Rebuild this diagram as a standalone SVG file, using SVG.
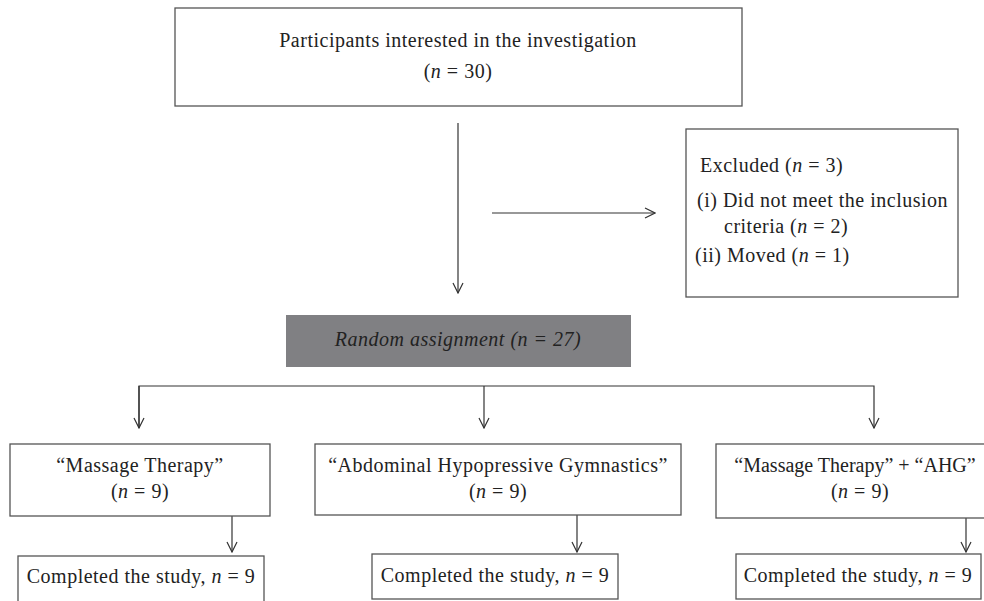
<svg xmlns="http://www.w3.org/2000/svg" width="984" height="601" viewBox="0 0 984 601">
<defs>
<marker id="ah" viewBox="0 0 12 12" refX="11" refY="6" markerWidth="12" markerHeight="12" markerUnits="userSpaceOnUse" orient="auto">
<polyline points="1,1 11,6 1,11" fill="none" stroke="#333" stroke-width="1.2"/>
</marker>
<style>
.box{fill:#fff;stroke:#555;stroke-width:1.3}
.gray{fill:#808083;stroke:none}
.t{font-family:"Liberation Serif","Times New Roman",serif;font-size:20px;letter-spacing:0.5px;fill:#222}
.c{text-anchor:middle}
.i{font-style:italic}
.ln{fill:none;stroke:#333;stroke-width:1.2}
</style>
</defs>
<rect width="984" height="601" fill="#fff"/>
<g id="connectors">
<line class="ln" x1="458" y1="123" x2="458" y2="293" marker-end="url(#ah)"/>
<line class="ln" x1="492" y1="213" x2="655" y2="213" marker-end="url(#ah)"/>
<polyline class="ln" points="139,428 139,386 874,386 874,428" marker-end="url(#ah)"/>
<line class="ln" x1="139" y1="386" x2="139" y2="428" marker-end="url(#ah)"/>
<line class="ln" x1="484" y1="386" x2="484" y2="428" marker-end="url(#ah)"/>
<line class="ln" x1="232" y1="509" x2="232" y2="552" marker-end="url(#ah)"/>
<line class="ln" x1="577" y1="512" x2="577" y2="552" marker-end="url(#ah)"/>
<line class="ln" x1="966" y1="511" x2="966" y2="552" marker-end="url(#ah)"/>
</g>
<g id="participants">
<rect class="box" x="175" y="8" width="567" height="98"/>
<text class="t c" x="458" y="47">Participants interested in the investigation</text>
<text class="t c" x="458" y="78">(<tspan class="i">n</tspan> = 30)</text>
</g>
<g id="excluded">
<rect class="box" x="686" y="129" width="272" height="168"/>
<text class="t" x="700" y="172">Excluded (<tspan class="i">n</tspan> = 3)</text>
<text class="t" x="697" y="207">(i) Did not meet the inclusion</text>
<text class="t" x="724" y="233">criteria (<tspan class="i">n</tspan> = 2)</text>
<text class="t" x="695" y="262">(ii) Moved (<tspan class="i">n</tspan> = 1)</text>
</g>
<g id="random">
<rect class="gray" x="286" y="315" width="345" height="52"/>
<text class="t c i" x="458" y="346">Random assignment (n = 27)</text>
</g>
<g id="mt">
<rect class="box" x="10" y="444" width="260" height="72"/>
<text class="t c" x="140" y="472">“Massage Therapy”</text>
<text class="t c" x="140" y="498">(<tspan class="i">n</tspan> = 9)</text>
</g>
<g id="ahg">
<rect class="box" x="315" y="444" width="366" height="71"/>
<text class="t c" x="498" y="472">“Abdominal Hypopressive Gymnastics”</text>
<text class="t c" x="498" y="498">(<tspan class="i">n</tspan> = 9)</text>
</g>
<g id="mtahg">
<rect class="box" x="716" y="444" width="270" height="74"/>
<text class="t c" x="855" y="472" style="letter-spacing:0">“Massage Therapy” + “AHG”</text>
<text class="t c" x="860" y="498">(<tspan class="i">n</tspan> = 9)</text>
</g>
<g id="done-mt">
<rect class="box" x="18" y="556" width="246" height="50"/>
<text class="t c" x="141" y="583">Completed the study, <tspan class="i">n</tspan> = 9</text>
</g>
<g id="done-ahg">
<rect class="box" x="372" y="554" width="246" height="45"/>
<text class="t c" x="495" y="582">Completed the study, <tspan class="i">n</tspan> = 9</text>
</g>
<g id="done-mtahg">
<rect class="box" x="736" y="554" width="245" height="45"/>
<text class="t c" x="858" y="582">Completed the study, <tspan class="i">n</tspan> = 9</text>
</g>
</svg>
